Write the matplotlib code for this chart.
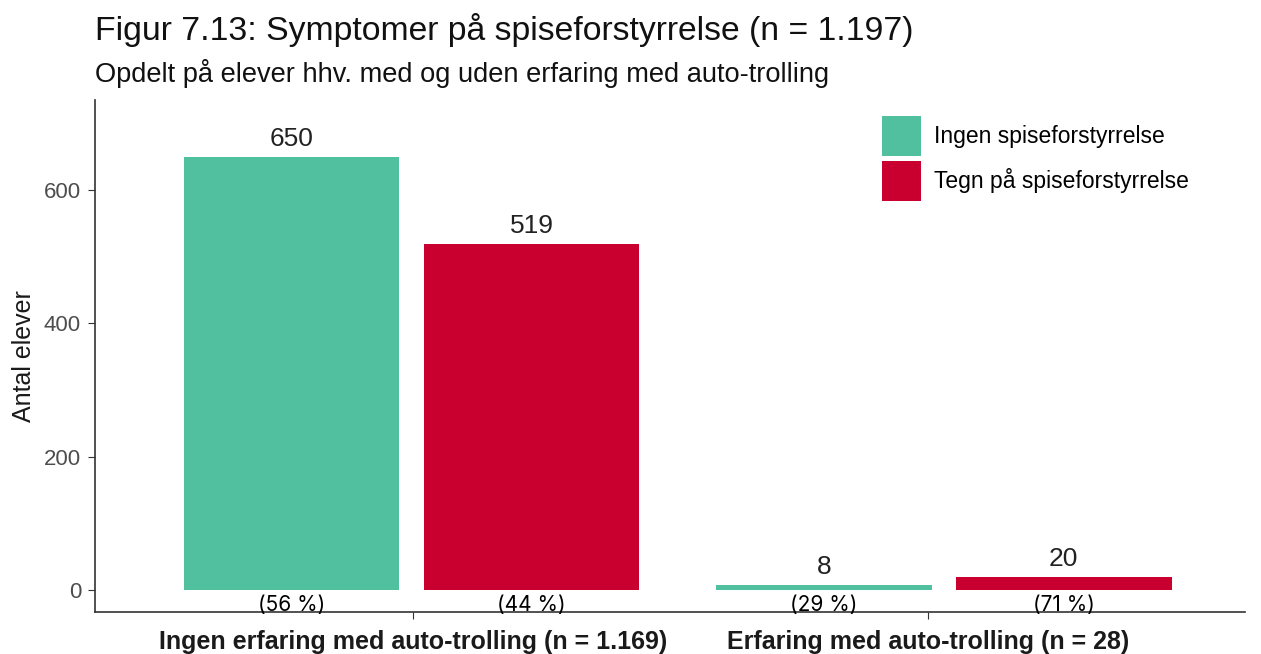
import numpy as np
import matplotlib.pyplot as plt

groups = ["Ingen erfaring med auto-trolling (n = 1.169)", "Erfaring med auto-trolling (n = 28)"]
series = ["Ingen spiseforstyrrelse", "Tegn på spiseforstyrrelse"]
ingen = [650, 8]
tegn = [519, 20]
pct_ingen = ["(56 %)", "(29 %)"]
pct_tegn = ["(44 %)", "(71 %)"]

colors = ["#50C09E", "#C9002F"]

plt.rcParams['font.family'] = ['Liberation Sans', 'DejaVu Sans']

fig = plt.figure(figsize=(12.61, 6.54), dpi=100)
ax = fig.add_axes([95/1261, 1 - 612/654, 1150/1261, 512/654])

ticks = np.arange(1, len(groups) + 1)
# the second group sits a little right of its tick in the original
centers = np.array([0.997, 2.031])
w = 0.419
off = 0.233
for vals, pcts, c, d, lab in [(ingen, pct_ingen, colors[0], -off, series[0]),
                              (tegn, pct_tegn, colors[1], off, series[1])]:
    bars = ax.bar(centers + d, vals, width=w, color=c, label=lab)
    for b, v, p in zip(bars, vals, pcts):
        ax.annotate(str(v), (b.get_x() + b.get_width()/2, v), xytext=(0, 4),
                    textcoords="offset points", ha="center", va="bottom",
                    fontsize=19, color="#222222")
        ax.text(b.get_x() + b.get_width()/2, -23, p, ha="center", va="center",
                fontsize=15, family=["Inter", "DejaVu Sans"], color="black")

ax.set_xlim(0.382, 2.616)
ax.set_ylim(-33, 735)
ax.set_xticks(ticks)
ax.set_xticklabels(groups, fontsize=18, fontweight="bold", color="#1a1a1a")
ax.set_yticks([0, 200, 400, 600])
ax.tick_params(axis="y", labelsize=16, labelcolor="#4d4d4d", length=5, color="#333333", pad=5)
ax.tick_params(axis="x", length=5, color="#333333", pad=8)
ax.set_ylabel("Antal elever", fontsize=18, color="#1a1a1a", labelpad=6)
for s in ["top", "right"]:
    ax.spines[s].set_visible(False)
for s in ["left", "bottom"]:
    ax.spines[s].set_color("#333333")
    ax.spines[s].set_linewidth(1.2)

leg = ax.legend(loc="upper left", bbox_to_anchor=(0.6725, 0.995), frameon=False,
                fontsize=16.5, handlelength=1.7, handleheight=2.3,
                handletextpad=0.55, labelspacing=0.22, borderaxespad=0.2)

fig.text(95/1261, 1 - 40/654, "Figur 7.13: Symptomer på spiseforstyrrelse (n = 1.197)",
         fontsize=24.3, va="baseline", ha="left", color="#111111")
fig.text(95/1261, 1 - 82/654, "Opdelt på elever hhv. med og uden erfaring med auto-trolling",
         fontsize=19.6, va="baseline", ha="left", color="#111111")

fig.savefig("out.png", dpi=100)
